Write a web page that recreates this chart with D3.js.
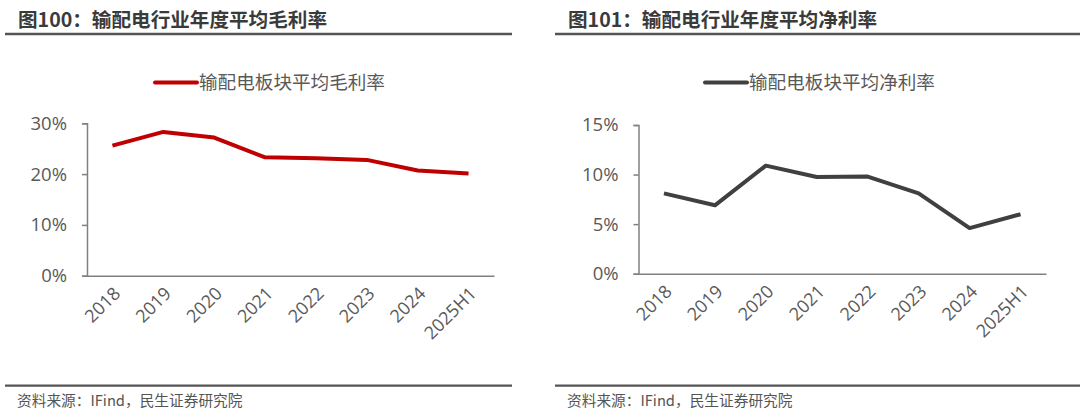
<!DOCTYPE html>
<html><head><meta charset="utf-8">
<script src="https://cdn.jsdelivr.net/npm/d3@7/dist/d3.min.js"></script>
<style>
body{margin:0;background:#fff;}
svg{display:block;font-family:"Noto Sans CJK SC","Microsoft YaHei",sans-serif;}
</style></head>
<body><svg id="c" width="1080" height="417"></svg>
<script>
const categories = ["2018","2019","2020","2021","2022","2023","2024","2025H1"];
const grossMargin = [25.6, 28.3, 27.2, 23.3, 23.1, 22.8, 20.7, 20.1];
const netMargin = [8.1, 6.9, 10.9, 9.75, 9.8, 8.1, 4.6, 6.0];
const grossTicks = [0, 10, 20, 30];
const netTicks = [0, 5, 10, 15];
const titles = ["图100：输配电行业年度平均毛利率", "图101：输配电行业年度平均净利率"];
const legends = ["输配电板块平均毛利率", "输配电板块平均净利率"];
const source = "资料来源：IFind，民生证券研究院";

const svg = d3.select("#c");

const panels = [
  {ox:0, lineX0:5, lineX1:512, titleX:18, axisX0:87, axisX1:494, yTop:123.3, yBot:275.7,
   data:grossMargin, ticks:grossTicks, max:30, color:"#C00000", legend:legends[0], legX:155, title:titles[0]},
  {ox:540, lineX0:555, lineX1:1080, titleX:568, axisX0:638.5, axisX1:1046, yTop:125, yBot:273.7,
   data:netMargin, ticks:netTicks, max:15, color:"#404040", legend:legends[1], legX:705, title:titles[1]}
];

panels.forEach(p => {
  const g = svg.append("g");
  g.append("text").attr("x", p.titleX).attr("y", 27).attr("font-size", 19.6).attr("font-weight", "bold")
    .attr("fill", "#3a3a3a").text(p.title);
  g.append("line").attr("x1", p.lineX0).attr("x2", p.lineX1).attr("y1", 34).attr("y2", 34)
    .attr("stroke", "#555").attr("stroke-width", 2.6);
  g.append("line").attr("x1", p.lineX0).attr("x2", p.lineX1).attr("y1", 385.7).attr("y2", 385.7)
    .attr("stroke", "#555").attr("stroke-width", 2.2);
  g.append("text").attr("x", p.lineX0 + 12).attr("y", 406).attr("font-size", 14.7)
    .attr("fill", "#555").text(source);

  const x = d3.scaleBand().domain(categories).range([p.axisX0, p.axisX1]);
  const y = d3.scaleLinear().domain([0, p.max]).range([p.yBot, p.yTop]);

  const ya = g.append("g").attr("transform", `translate(${p.axisX0},0)`)
    .call(d3.axisLeft(y).tickValues(p.ticks).tickSize(5).tickPadding(15).tickFormat(d => d + "%"));
  ya.select(".domain").attr("stroke", "#808080").attr("stroke-width", 1.5);
  ya.selectAll(".tick line").attr("stroke", "#808080").attr("stroke-width", 1.5);
  ya.selectAll(".tick text").attr("font-size", 18.5).attr("fill", "#595959")
    .attr("font-family", "'Open Sans','Noto Sans',sans-serif");

  const xa = g.append("g").attr("transform", `translate(0,${p.yBot})`)
    .call(d3.axisBottom(x).tickSize(0).tickPadding(0));
  xa.select(".domain").attr("stroke", "#808080").attr("stroke-width", 1.5);
  xa.selectAll(".tick text").attr("font-size", 18).attr("fill", "#595959")
    .attr("font-family", "'Open Sans','Noto Sans',sans-serif")
    .attr("text-anchor", "end").attr("dy", 0)
    .attr("transform", "translate(9,19) rotate(-45)");

  const line = d3.line().x((d, i) => x(categories[i]) + x.bandwidth() / 2).y(d => y(d));
  g.append("path").datum(p.data).attr("d", line).attr("fill", "none")
    .attr("stroke", p.color).attr("stroke-width", 4).attr("stroke-linejoin", "round");

  g.append("line").attr("x1", p.legX).attr("x2", p.legX + 42).attr("y1", 82.5).attr("y2", 82.5)
    .attr("stroke", p.color).attr("stroke-width", 4).attr("stroke-linecap", "round");
  g.append("text").attr("x", p.legX + 44).attr("y", 89).attr("font-size", 18.6)
    .attr("fill", "#595959").text(p.legend);
});
</script></body></html>
